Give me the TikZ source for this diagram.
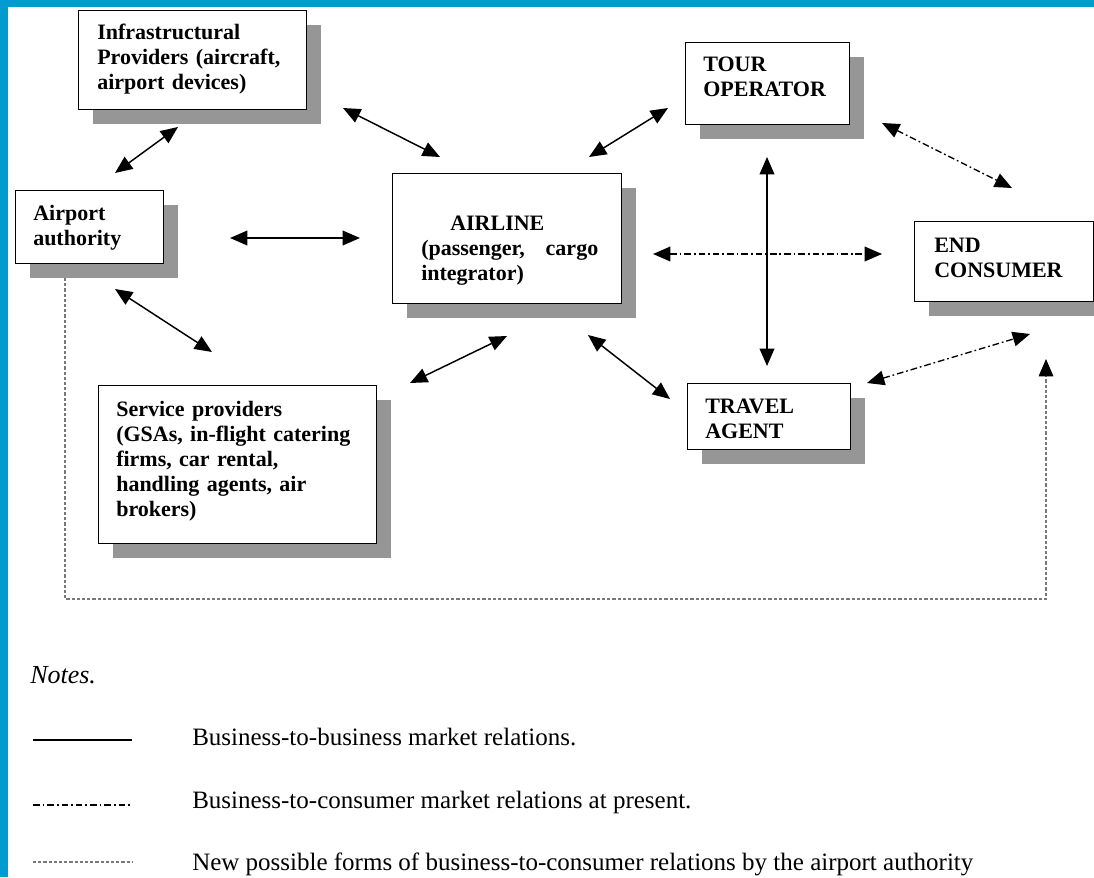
\documentclass[tikz,border=0pt]{standalone}
\usepackage{fontspec}
\setmainfont{Liberation Serif}
\usetikzlibrary{arrows.meta,shadows}
\definecolor{frameblue}{RGB}{0,156,208}
\definecolor{shadowgray}{RGB}{150,150,150}
\definecolor{dotgray}{RGB}{120,120,120}
\begin{document}
\begin{tikzpicture}[x=0.75pt,y=-0.75pt,
  box/.style={draw=black, line width=1.1pt, fill=white, anchor=north west, inner sep=0pt,
    drop shadow={shadow xshift=10.6pt, shadow yshift=-10.6pt, fill=shadowgray, opacity=1}},
  bsize/.style 2 args={minimum width=#1*0.75pt, minimum height=#2*0.75pt},
  boxtext/.style={anchor=base west, inner sep=0pt, align=left,
    font=\fontsize{16.5}{18.75}\selectfont\bfseries},
  tip/.tip={Triangle[length=13pt,width=11pt,color=black]},
  b2b/.style={line width=1.1pt, tip-tip},
  b2c/.style={line width=1pt, dash pattern=on 5pt off 2.2pt on 1.3pt off 2.2pt, tip-tip},
  newrel/.style={line width=0.8pt, draw=dotgray, dash pattern=on 2.4pt off 1.5pt},
  legtext/.style={anchor=base west, inner sep=0pt, font=\fontsize{18.75}{22}\selectfont}
]
\useasboundingbox (0,0) rectangle (1094,877);
\fill[white] (0,0) rectangle (1094,877);
\fill[frameblue] (0,0) rectangle (1094,7);
\fill[frameblue] (0,0) rectangle (8,877);

% connector end points
\coordinate (a1) at (178,127); \coordinate (a2) at (115,173);
\coordinate (b1) at (343,108); \coordinate (b2) at (440,157);
\coordinate (c1) at (230,238); \coordinate (c2) at (360,238);
\coordinate (d1) at (115,289); \coordinate (d2) at (212,352);
\coordinate (e1) at (507,336); \coordinate (e2) at (410,383);
\coordinate (f1) at (589,157); \coordinate (f2) at (668,108);
\coordinate (g1) at (588,335); \coordinate (g2) at (670,399);
\coordinate (h1) at (767,157); \coordinate (h2) at (767,366);
\coordinate (i1) at (653,254); \coordinate (i2) at (882,254);
\coordinate (j1) at (882,123); \coordinate (j2) at (1012,188);
\coordinate (k1) at (867,383); \coordinate (k2) at (1030,334);
\coordinate (n1) at (65,278); \coordinate (n2) at (65,599);
\coordinate (n3) at (1046,599); \coordinate (n4) at (1046,359);

% boxes
\node[box, bsize={228}{99}]  (infra)   at (78,10)   {};
\node[box, bsize={148}{73}]  (airport) at (15,190)  {};
\node[box, bsize={229}{130}] (airline) at (392,173) {};
\node[box, bsize={164}{82}]  (tour)    at (685,42)  {};
\node[box, bsize={179}{80}]  (endc)    at (914,221) {};
\node[box, bsize={163}{66}]  (travel)  at (687,383) {};
\node[box, bsize={278}{158}] (service) at (98,385)  {};

% box texts
\node[boxtext, text width=150pt] (infraT) at (97,40)
  {Infrastructural\\Providers (aircraft,\\airport devices)};
\node[boxtext, text width=90pt] (airportT) at (33,220) {Airport\\authority};
\node[boxtext, text width=132.75pt] (airlineT) at (421,230)
  {\hspace*{21.75pt}AIRLINE\\\leavevmode\hbox to \linewidth{(passenger,\hfill cargo}\\integrator)};
\node[boxtext, text width=110pt] (tourT) at (703,72) {TOUR\\OPERATOR};
\node[boxtext, text width=110pt] (endT) at (934,252) {END\\CONSUMER};
\node[boxtext, text width=110pt] (travelT) at (705,413) {TRAVEL\\AGENT};
\node[boxtext, text width=192pt] (serviceT) at (116,416)
  {Service providers\\(GSAs, in-flight catering\\firms, car rental,\\handling agents, air\\brokers)};

% business-to-business relations
\draw[b2b] (a1) -- (a2);
\draw[b2b] (b1) -- (b2);
\draw[b2b] (c1) -- (c2);
\draw[b2b] (d1) -- (d2);
\draw[b2b] (e1) -- (e2);
\draw[b2b] (f1) -- (f2);
\draw[b2b] (g1) -- (g2);
\draw[b2b] (h1) -- (h2);
% business-to-consumer relations
\draw[b2c] (i1) -- (i2);
\draw[b2c] (j1) -- (j2);
\draw[b2c] (k1) -- (k2);
% new possible relations
\draw[newrel, -tip] (n1) -- (n2) -- (n3) -- (n4);

% notes
\node[legtext, font=\fontsize{19.5}{22}\selectfont\itshape] (notes) at (30,683) {Notes.};
\coordinate (l1a) at (33,740); \coordinate (l1b) at (132,740);
\coordinate (l2a) at (33,805); \coordinate (l2b) at (132,805);
\coordinate (l3a) at (33,862); \coordinate (l3b) at (132,862);
\draw[line width=1.2pt] (l1a) -- (l1b);
\draw[line width=0.9pt, dash pattern=on 5pt off 2.2pt on 1.3pt off 2.2pt] (l2a) -- (l2b);
\draw[newrel] (l3a) -- (l3b);
\node[legtext] (leg1) at (192,745) {Business-to-business market relations.};
\node[legtext] (leg2) at (192,808) {Business-to-consumer market relations at present.};
\node[legtext] (leg3) at (192,870) {New possible forms of business-to-consumer relations by the airport authority};
\end{tikzpicture}
\end{document}
